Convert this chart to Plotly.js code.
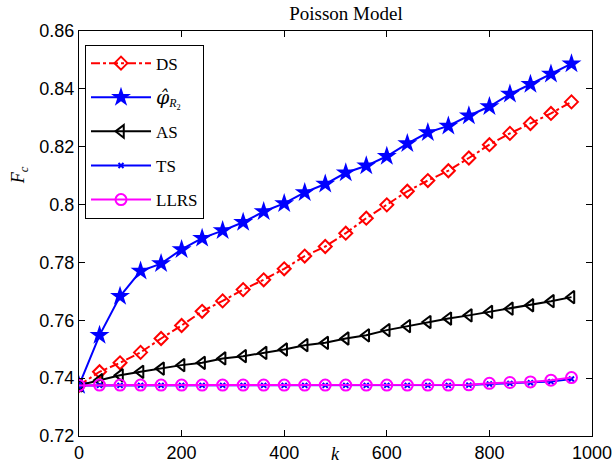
<!DOCTYPE html>
<html>
<head>
<meta charset="utf-8">
<script src="https://cdn.plot.ly/plotly-3.0.1.min.js"></script>
<style>html,body{margin:0;padding:0;background:#fff;}#chart{width:615px;height:463px;}</style>
</head>
<body>
<div id="chart"></div>
<script>
const kValues = [0,40,80,120,160,200,240,280,320,360,400,440,480,520,560,600,640,680,720,760,800,840,880,920,960];
const dsValues = [0.7375,0.7422,0.7453,0.7489,0.7537,0.7582,0.7631,0.7667,0.7706,0.7740,0.7778,0.7822,0.7855,0.7901,0.7953,0.7999,0.8046,0.8083,0.8117,0.8161,0.8207,0.8246,0.8280,0.8315,0.8355];
const phiValues = [0.7375,0.7548,0.7683,0.7770,0.7796,0.7845,0.7884,0.7910,0.7939,0.7976,0.8004,0.8042,0.8071,0.8110,0.8134,0.8167,0.8211,0.8249,0.8272,0.8307,0.8339,0.8382,0.8416,0.8451,0.8487];
const asValues = [0.7375,0.7393,0.7410,0.7422,0.7433,0.7445,0.7453,0.7468,0.7476,0.7487,0.7499,0.7514,0.7522,0.7537,0.7548,0.7566,0.7580,0.7594,0.7606,0.7617,0.7629,0.7640,0.7652,0.7666,0.7680];
const tsValues = [0.7375,0.7375,0.7375,0.7375,0.7375,0.7375,0.7375,0.7375,0.7375,0.7375,0.7375,0.7375,0.7375,0.7375,0.7375,0.7375,0.7375,0.7375,0.7375,0.7376,0.7380,0.7382,0.7384,0.7388,0.7397];
const llrsValues = [0.7375,0.7376,0.7376,0.7376,0.7376,0.7376,0.7376,0.7376,0.7376,0.7376,0.7376,0.7376,0.7376,0.7376,0.7376,0.7376,0.7376,0.7376,0.7376,0.7377,0.7382,0.7385,0.7387,0.7393,0.7402];
const seriesNames = ["DS", "<span style=\"font-family:'DejaVu Serif';font-size:19px\"><i>φ̂</i></span><sub><i>R</i><sub>2</sub></sub>", "AS", "TS", "LLRS"];
const xTicks = [0,200,400,600,800,1000];
const yTicks = [0.72,0.74,0.76,0.78,0.8,0.82,0.84,0.86];
const yTickText = ["0.72","0.74","0.76","0.78","0.8","0.82","0.84","0.86"];

const traces = [
  {x:kValues, y:dsValues, name:seriesNames[0], legendgroup:"a", mode:"lines+markers",
   line:{color:"#ff0000", width:2, dash:"dashdot"},
   marker:{symbol:"diamond-open", size:10, color:"#ff0000", line:{width:2, color:"#ff0000"}}},
  {x:kValues, y:phiValues, name:seriesNames[1], legendgroup:"b", mode:"lines+markers",
   line:{color:"#0000ff", width:2},
   marker:{symbol:"star", size:15, color:"#0000ff", line:{width:0}}},
  {x:kValues, y:asValues, name:seriesNames[2], legendgroup:"c", mode:"lines+markers",
   line:{color:"#000000", width:2},
   marker:{symbol:"triangle-left-open", size:11, color:"#000000", line:{width:2, color:"#000000"}}},
  {x:kValues, y:tsValues, name:seriesNames[3], legendgroup:"d", mode:"lines+markers",
   line:{color:"#0000ff", width:2},
   marker:{symbol:"x-thin-open", size:5, color:"#0000ff", line:{width:2, color:"#0000ff"}}},
  {x:kValues, y:llrsValues, name:seriesNames[4], legendgroup:"e", mode:"lines+markers",
   line:{color:"#ff00ff", width:2},
   marker:{symbol:"circle-open", size:11, color:"#ff00ff", line:{width:2, color:"#ff00ff"}}}
];

const axisCommon = {
  showline:true, linecolor:"#000", linewidth:1, mirror:"ticks",
  ticks:"inside", ticklen:6, tickcolor:"#000", tickwidth:1,
  showgrid:false, zeroline:false,
  tickfont:{family:"Liberation Sans, Arial, sans-serif", size:18, color:"#000"}
};

const layout = {
  width:615, height:463,
  margin:{l:79, r:22.5, t:31, b:27, pad:0},
  paper_bgcolor:"#fff", plot_bgcolor:"#fff",
  showlegend:true,
  title:{text:"Poisson Model", x:320/615, xref:"paper", xanchor:"center", y:1-13/463, yanchor:"middle",
         font:{family:"Liberation Serif, Times New Roman, serif", size:19, color:"#000"}},
  xaxis:Object.assign({}, axisCommon, {range:[0,1000], tickvals:xTicks, ticktext:xTicks.map(String)}),
  yaxis:Object.assign({}, axisCommon, {range:[0.72,0.86], tickvals:yTicks, ticktext:yTickText}),
  legend:{x:0.0117, y:0.9664, xanchor:"left", yanchor:"top",
          bgcolor:"#fff", bordercolor:"#000", borderwidth:1,
          traceorder:"grouped", tracegroupgap:9, itemwidth:60,
          font:{family:"Liberation Serif, Times New Roman, serif", size:17, color:"#000"}},
  annotations:[
    {text:"<i>k</i>", xref:"paper", yref:"paper", x:0.5, y:-0.045, xanchor:"center", yanchor:"middle", showarrow:false,
     font:{family:"Liberation Serif, Times New Roman, serif", size:18, color:"#000"}},
    {text:"<i>F<sub>c</sub></i>", xref:"paper", yref:"paper", x:-0.117, y:0.644, xanchor:"center", yanchor:"middle", showarrow:false, textangle:-90,
     font:{family:"Liberation Serif, Times New Roman, serif", size:18, color:"#000"}}
  ]
};

Plotly.newPlot("chart", traces, layout, {displayModeBar:false, staticPlot:true});
</script>
</body>
</html>
